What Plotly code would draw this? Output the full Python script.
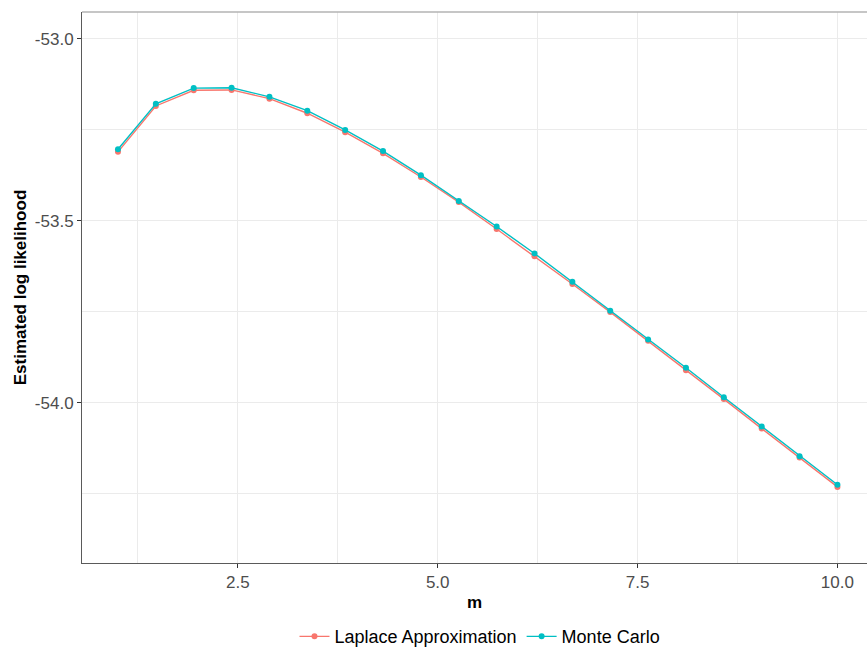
import plotly.graph_objects as go

m = [1.0, 1.4737, 1.9474, 2.4211, 2.8947, 3.3684, 3.8421, 4.3158, 4.7895, 5.2632,
     5.7368, 6.2105, 6.6842, 7.1579, 7.6316, 8.1053, 8.5789, 9.0526, 9.5263, 10.0]

laplace = [-53.311, -53.185, -53.142, -53.141, -53.165, -53.205, -53.257, -53.315,
           -53.380, -53.449, -53.523, -53.598, -53.674, -53.751, -53.830, -53.911,
           -53.990, -54.071, -54.150, -54.231]

monte_carlo = [-53.304, -53.179, -53.136, -53.135, -53.160, -53.198, -53.251, -53.309,
               -53.375, -53.446, -53.516, -53.590, -53.668, -53.747, -53.826, -53.904,
               -53.985, -54.065, -54.147, -54.225]

x_tickvals = [2.5, 5.0, 7.5, 10.0]
x_ticktext = ["2.5", "5.0", "7.5", "10.0"]
y_tickvals = [-53.0, -53.5, -54.0]
y_ticktext = ["-53.0", "-53.5", "-54.0"]

FONT = "Liberation Sans, Arial, Helvetica, sans-serif"

fig = go.Figure()
fig.add_trace(go.Scatter(x=m, y=laplace, mode="lines+markers", name="Laplace Approximation",
                         line=dict(color="#F8766D", width=1.4),
                         marker=dict(color="#F8766D", size=6)))
fig.add_trace(go.Scatter(x=m, y=monte_carlo, mode="lines+markers", name="Monte Carlo",
                         line=dict(color="#00BFC4", width=1.4),
                         marker=dict(color="#00BFC4", size=6)))

fig.update_layout(
    width=867, height=647,
    margin=dict(l=82, r=0, t=12, b=84, pad=0),
    paper_bgcolor="white", plot_bgcolor="white",
    font=dict(family=FONT, color="black"),
    showlegend=True,
    legend=dict(orientation="h", x=0.507, xanchor="center",
                yref="container", y=0.016, yanchor="middle",
                font=dict(size=18, color="black"), itemwidth=30),
)

fig.update_xaxes(
    range=[0.55, 10.37],
    tickvals=x_tickvals, ticktext=x_ticktext,
    tickfont=dict(size=17, color="#4D4D4D"),
    ticks="outside", ticklen=4, tickcolor="#333333", tickwidth=1,
    showgrid=True, gridcolor="#EBEBEB", gridwidth=1.1,
    minor=dict(dtick=1.25, tick0=0, showgrid=True, gridcolor="#EBEBEB", gridwidth=0.6),
    showline=True, linecolor="#5A5A5A", linewidth=1,
    zeroline=False,
    title=dict(text="<b>m</b>", font=dict(size=17, color="black"), standoff=4),
)
fig.update_yaxes(
    range=[-54.440, -52.927],
    tickvals=y_tickvals, ticktext=y_ticktext,
    tickfont=dict(size=17, color="#4D4D4D"),
    ticks="outside", ticklen=4, tickcolor="#333333", tickwidth=1,
    showgrid=True, gridcolor="#EBEBEB", gridwidth=1.1,
    minor=dict(dtick=0.25, tick0=0, showgrid=True, gridcolor="#EBEBEB", gridwidth=0.6),
    showline=True, linecolor="#5A5A5A", linewidth=1,
    zeroline=False,
    title=dict(text="<b>Estimated log likelihood</b>", font=dict(size=17, color="black"), standoff=3),
)

# top panel border
fig.add_shape(type="line", xref="paper", yref="paper", x0=0, x1=1, y0=1, y1=1,
              line=dict(color="#B3B3B3", width=1.5))

fig.write_html("out.html")
